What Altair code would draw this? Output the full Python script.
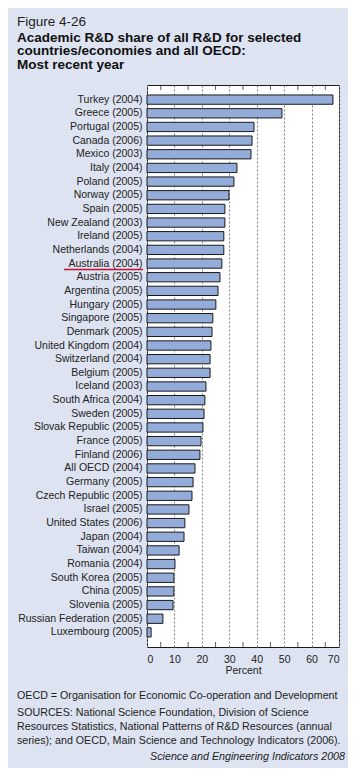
import altair as alt
import pandas as pd

countries = [
    "Turkey (2004)", "Greece (2005)", "Portugal (2005)", "Canada (2006)", "Mexico (2003)",
    "Italy (2004)", "Poland (2005)", "Norway (2005)", "Spain (2005)", "New Zealand (2003)",
    "Ireland (2005)", "Netherlands (2004)", "Australia (2004)", "Austria (2005)",
    "Argentina (2005)", "Hungary (2005)", "Singapore (2005)", "Denmark (2005)",
    "United Kingdom (2004)", "Switzerland (2004)", "Belgium (2005)", "Iceland (2003)",
    "South Africa (2004)", "Sweden (2005)", "Slovak Republic (2005)", "France (2005)",
    "Finland (2006)", "All OECD (2004)", "Germany (2005)", "Czech Republic (2005)",
    "Israel (2005)", "United States (2006)", "Japan (2004)", "Taiwan (2004)",
    "Romania (2004)", "South Korea (2005)", "China (2005)", "Slovenia (2005)",
    "Russian Federation (2005)", "Luxembourg (2005)",
]
values = [
    67.8, 49.2, 39.0, 38.3, 37.9, 32.8, 31.7, 29.9, 28.4, 28.4,
    28.0, 28.0, 27.3, 26.6, 25.9, 25.1, 24.0, 23.7, 23.3, 23.0,
    23.0, 21.5, 21.1, 20.8, 20.4, 19.7, 19.3, 17.5, 16.8, 16.4,
    15.3, 13.8, 13.5, 11.7, 10.2, 9.8, 9.8, 9.5, 5.8, 1.5,
]
highlight = ["Australia (2004)"]
x_labels = [0, 10, 20, 30, 40, 50, 60, 70]
minor_ticks = [5, 15, 25, 35, 45, 55, 65]

title_line = "Figure 4-26"
subtitle_lines = [
    "Academic R&D share of all R&D for selected",
    "countries/economies and all OECD:",
    "Most recent year",
]
footnotes = [
    "OECD = Organisation for Economic Co-operation and Development",
    "SOURCES: National Science Foundation, Division of Science",
    "Resources Statistics, National Patterns of R&D Resources (annual",
    "series); and OECD, Main Science and Technology Indicators (2006).",
]
credit = "Science and Engineering Indicators 2008"

FONT = "Liberation Sans"
BG = "#dde3f1"
W, H = 192, 562

df = pd.DataFrame({"country": countries, "share": values})
xscale = alt.Scale(domain=[0, 70], nice=False, zero=True)
yscale = alt.Scale(paddingInner=0.32, paddingOuter=0.73)

xaxis = alt.Axis(values=x_labels, ticks=False, domain=False,
                 grid=True, gridDash=[2, 2], gridColor="#808080",
                 gridWidth=1, labelPadding=7, labelFontSize=10.5,
                 labelColor="#222222", labelFont=FONT,
                 titleFont=FONT, titleFontSize=10.5,
                 titleFontWeight="normal", titleColor="#222222",
                 titlePadding=1)

bars = alt.Chart(df).mark_bar(
    color="#93acd9", stroke="#1a1a1a", strokeWidth=1
).encode(
    x=alt.X("share:Q", scale=xscale, title="Percent", axis=xaxis),
    y=alt.Y("country:N", sort=countries, scale=yscale, title=None,
            axis=alt.Axis(ticks=False, domain=False, labelPadding=5,
                          labelFontSize=10.5, labelColor="#222222",
                          labelFont=FONT, labelLimit=200)),
)

under = alt.Chart(df).transform_filter(
    alt.FieldOneOfPredicate(field="country", oneOf=highlight)
).mark_rule(color="#c8102e", strokeWidth=1.5, yOffset=6).encode(
    y=alt.Y("country:N", sort=countries),
    x=alt.value(-83),
    x2=alt.value(-4),
)

tdf = pd.DataFrame({"share": minor_ticks})
top_ticks = alt.Chart(tdf).mark_tick(color="#1a1a1a", thickness=1, size=5).encode(
    x=alt.X("share:Q", scale=xscale, title="Percent", axis=xaxis), y=alt.value(2.5))
bot_ticks = alt.Chart(tdf).mark_tick(color="#1a1a1a", thickness=1, size=5).encode(
    x=alt.X("share:Q", scale=xscale, title="Percent", axis=xaxis), y=alt.value(H - 2.5))

foot_y = [614, 631, 645, 659]
texts = []
for line, yy in zip(footnotes, foot_y):
    texts.append(
        alt.Chart(pd.DataFrame({"t": [line]})).mark_text(
            align="left", baseline="alphabetic", font=FONT, fontSize=10.7,
            color="#222222"
        ).encode(text="t:N", x=alt.value(-130), y=alt.value(yy))
    )
texts.append(
    alt.Chart(pd.DataFrame({"t": [credit]})).mark_text(
        align="right", baseline="alphabetic", font=FONT, fontSize=10.7,
        fontStyle="italic", color="#222222"
    ).encode(text="t:N", x=alt.value(198), y=alt.value(675))
)

chart = alt.layer(bars, under, top_ticks, bot_ticks, *texts).properties(
    width=W, height=H,
    title=alt.TitleParams(
        text=title_line, subtitle=subtitle_lines, anchor="start", frame="group",
        dx=-130, font=FONT, fontSize=13.5, fontWeight="normal", color="#222222",
        subtitleFont=FONT, subtitleFontSize=13.5, subtitleFontWeight="bold",
        subtitleColor="#111111", subtitleLineHeight=13.5, subtitlePadding=2,
        offset=14,
    ),
    autosize=alt.AutoSizeParams(type="none"),
    padding={"left": 139, "top": 77, "right": 9, "bottom": 121},
    background=BG,
    view=alt.ViewBackground(fill="white", stroke="#1a1a1a", strokeWidth=1),
).configure_view(
    fill="white", stroke="#1a1a1a", strokeWidth=1
)

chart.save("out.html", embed_options={"renderer": "svg", "actions": False})
